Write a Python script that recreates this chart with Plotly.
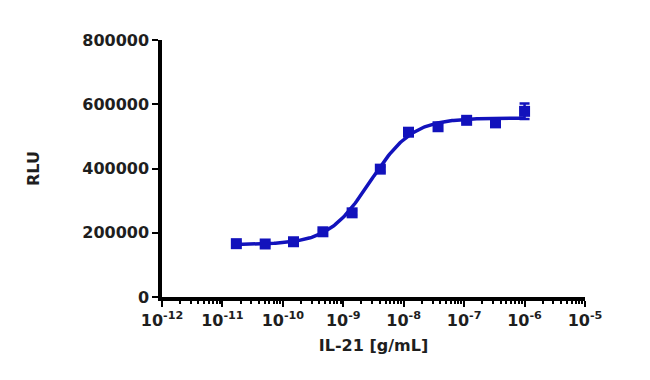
import numpy as np
import plotly.graph_objects as go

# Concentrations (g/mL) and responses (RLU)
conc = [1.7e-11, 5.1e-11, 1.5e-10, 4.6e-10, 1.4e-9, 4.1e-9, 1.2e-8, 3.7e-8, 1.1e-7, 3.3e-7, 1.0e-6]
rlu = [166000, 165000, 172000, 203000, 262000, 398000, 513000, 530000, 550000, 542000, 578000]
rlu_err = [6000, 5000, 5000, 5000, 7000, 8000, 9000, 9000, 7000, 6000, 24000]

# 4-parameter logistic fit parameters (estimated from the drawn curve)
fit_bottom = 163000
fit_top = 557000
fit_ec50 = 2.8e-9
fit_hill = 1.25

x_tick_exps = [-12, -11, -10, -9, -8, -7, -6, -5]
y_ticks = [0, 200000, 400000, 600000, 800000]

blue = "#1212bc"
font = "DejaVu Sans"

xf = np.logspace(np.log10(conc[0]), np.log10(conc[-1]), 200)
yf = fit_bottom + (fit_top - fit_bottom) / (1 + (fit_ec50 / xf) ** fit_hill)

fig = go.Figure()
fig.add_trace(go.Scatter(x=xf, y=yf, mode="lines",
                         line=dict(color=blue, width=3.5), showlegend=False,
                         hoverinfo="skip"))
fig.add_trace(go.Scatter(x=conc, y=rlu, mode="markers",
                         marker=dict(symbol="square", size=11, color=blue),
                         error_y=dict(type="data", array=rlu_err, color=blue,
                                      thickness=2.5, width=5),
                         showlegend=False))

minor_vals = [m * 10.0 ** e for e in x_tick_exps[:-1] for m in range(2, 10)]

fig.update_layout(
    width=650, height=380,
    margin=dict(l=154, r=73, t=32, b=91),
    paper_bgcolor="white", plot_bgcolor="white",
    font=dict(family=font, size=16, color="#1e1e1e", weight="bold"),
    xaxis=dict(
        type="log", range=[-12, -5], automargin=False,
        tickvals=[10.0 ** e for e in x_tick_exps],
        ticktext=[f"10<sup>{e}</sup>" for e in x_tick_exps],
        ticks="outside", ticklen=6, tickwidth=2, tickcolor="black",
        minor=dict(tickvals=minor_vals, ticks="outside", ticklen=3,
                   tickwidth=2, tickcolor="black"),
        showline=True, linecolor="black", linewidth=3.5,
        showgrid=False, zeroline=False,
        title=dict(text="IL-21 [g/mL]", standoff=12,
                   font=dict(family=font, size=16, color="#1e1e1e", weight="bold")),
        tickfont=dict(family=font, size=16, color="#1e1e1e", weight="bold"),
    ),
    yaxis=dict(
        range=[0, 800000], tickvals=y_ticks, automargin=False,
        ticktext=[str(v) for v in y_ticks],
        ticks="outside", ticklen=6, tickwidth=2, tickcolor="black",
        showline=True, linecolor="black", linewidth=3.5,
        showgrid=False, zeroline=False,
        title=dict(text="RLU", standoff=40,
                   font=dict(family=font, size=16, color="#1e1e1e", weight="bold")),
        tickfont=dict(family=font, size=16, color="#1e1e1e", weight="bold"),
    ),
)

fig.write_html("out.html")
